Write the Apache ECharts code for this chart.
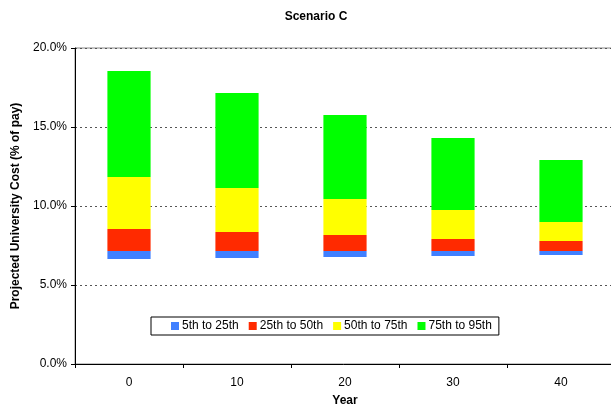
<!DOCTYPE html>
<html><head><meta charset="utf-8">
<script src="https://cdn.jsdelivr.net/npm/echarts@6/dist/echarts.min.js"></script>
<style>html,body{margin:0;padding:0;background:#fff}#c{width:611px;height:409px}</style>
</head><body><div id="c"></div>
<script>
var years = ['0', '10', '20', '30', '40'];
var p5  = [6.65, 6.71, 6.77, 6.84, 6.90];
var p25 = [7.15, 7.15, 7.15, 7.15, 7.15];
var p50 = [8.54, 8.35, 8.16, 7.91, 7.78];
var p75 = [11.84, 11.14, 10.44, 9.75, 8.99];
var p95 = [18.54, 17.15, 15.76, 14.30, 12.91];
var seriesNames = ['5th to 25th', '25th to 50th', '50th to 75th', '75th to 95th'];
var colors = ['#4080ff', '#ff2a00', '#ffff00', '#00ff00'];
var yTicks = [0, 5, 10, 15, 20];

function diff(a, b) { return a.map(function (v, i) { return +(b[i] - v).toFixed(3); }); }
var segs = [diff(p5, p25), diff(p25, p50), diff(p50, p75), diff(p75, p95)];

var font = 'Liberation Sans, Arial, sans-serif';
var series = [{
  name: 'base', type: 'bar', stack: 's', data: p5, barWidth: '40%',
  itemStyle: { color: 'rgba(0,0,0,0)' }, silent: true
}];
seriesNames.forEach(function (n, i) {
  series.push({ name: n, type: 'bar', stack: 's', data: segs[i], barWidth: '40%',
    itemStyle: { color: colors[i] } });
});

var chart = echarts.init(document.getElementById('c'), null, { renderer: 'canvas' });
chart.setOption({
  animation: false,
  backgroundColor: '#fff',
  color: ['transparent'].concat(colors),
  title: { text: 'Scenario C', left: 311, top: 6, textAlign: 'center',
    textStyle: { fontFamily: font, fontSize: 12, fontWeight: 'bold', color: '#000' } },
  grid: { left: 75, top: 48, width: 540, height: 316, containLabel: false, outerBoundsMode: 'none',
    show: true, borderColor: '#888', borderWidth: 1 },
  legend: {
    data: seriesNames, left: 151, top: 317, orient: 'horizontal',
    itemWidth: 8, itemHeight: 8, itemGap: 10,
    padding: [3, 7, 3, 20], borderColor: '#000', borderWidth: 1, backgroundColor: '#fff',
    icon: 'rect',
    textStyle: { fontFamily: font, fontSize: 12, color: '#000', padding: [0, 0, 0, -2] }
  },
  xAxis: {
    type: 'category', data: years, name: 'Year', nameLocation: 'middle', nameGap: 31,
    nameTextStyle: { fontFamily: font, fontSize: 12, fontWeight: 'bold', color: '#000' },
    axisLine: { lineStyle: { color: '#000', width: 1 } },
    axisTick: { show: true, alignWithLabel: false, length: 4, lineStyle: { color: '#000' } },
    axisLabel: { fontFamily: font, fontSize: 12, color: '#000', margin: 13 },
    boundaryGap: true
  },
  yAxis: {
    type: 'value', min: 0, max: 20, interval: 5,
    name: 'Projected University Cost (% of pay)', nameLocation: 'middle', nameGap: 52,
    nameTextStyle: { fontFamily: font, fontSize: 12, fontWeight: 'bold', color: '#000' },
    axisLine: { show: true, lineStyle: { color: '#000', width: 1 } },
    axisTick: { show: true, length: 4, lineStyle: { color: '#000' } },
    axisLabel: { fontFamily: font, fontSize: 12, color: '#000', margin: 8,
      formatter: function (v) { return yTicks.indexOf(v) >= 0 ? v.toFixed(1) + '%' : ''; } },
    splitLine: { show: true, lineStyle: { color: '#555', type: [2, 3], width: 1 } }
  },
  series: series
});
</script></body></html>
